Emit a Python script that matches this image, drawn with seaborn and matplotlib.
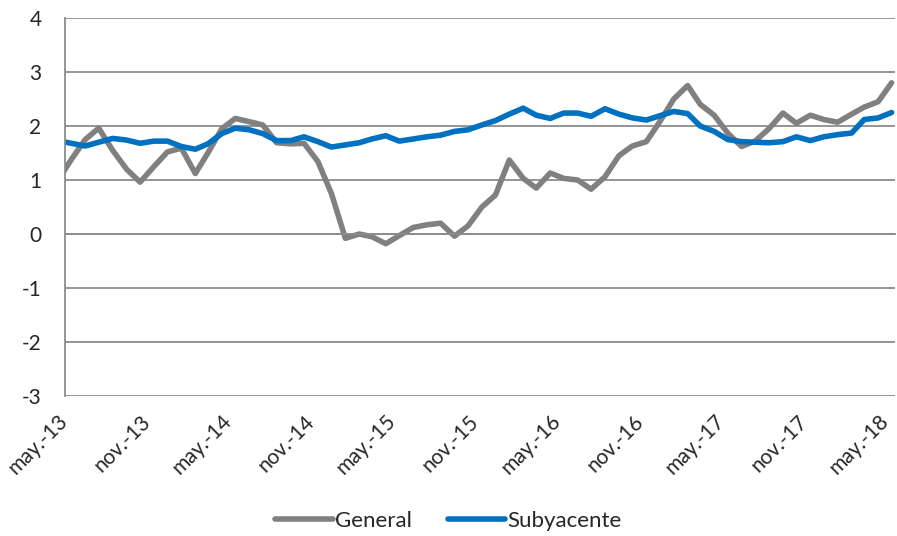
# Inflation chart: General vs Subyacente, monthly (mid-month points)
import pandas as pd
import seaborn as sns
import matplotlib.pyplot as plt

# Monthly values, apr-13 .. may-18 (the april point is clipped by the axis)
general = [0.99, 1.38, 1.75, 1.96, 1.55, 1.2, 0.96, 1.25, 1.52, 1.59, 1.12, 1.5,
           1.95, 2.14, 2.08, 2.02, 1.69, 1.67, 1.68, 1.34, 0.75, -0.08, 0.0, -0.05,
           -0.18, -0.03, 0.12, 0.17, 0.2, -0.04, 0.15, 0.5, 0.72, 1.37, 1.03, 0.85,
           1.13, 1.03, 1.0, 0.83, 1.06, 1.45, 1.63, 1.71, 2.08, 2.5, 2.75, 2.4,
           2.2, 1.87, 1.62, 1.72, 1.95, 2.24, 2.05, 2.2, 2.12, 2.07, 2.22, 2.35,
           2.45, 2.8]
subyacente = [1.73, 1.68, 1.63, 1.7, 1.77, 1.74, 1.68, 1.72, 1.72, 1.62, 1.57, 1.67,
              1.86, 1.96, 1.93, 1.86, 1.73, 1.73, 1.8, 1.71, 1.61, 1.65, 1.69, 1.76,
              1.82, 1.72, 1.76, 1.8, 1.83, 1.9, 1.93, 2.02, 2.1, 2.22, 2.33, 2.2,
              2.14, 2.24, 2.24, 2.18, 2.32, 2.22, 2.15, 2.11, 2.19, 2.27, 2.23, 2.0,
              1.9, 1.75, 1.71, 1.7, 1.69, 1.71, 1.8, 1.73, 1.8, 1.84, 1.87, 2.12,
              2.15, 2.25]
dates = pd.date_range("2013-04-01", periods=len(general), freq="MS") + pd.Timedelta(days=14)

tick_dates = pd.date_range("2013-05-01", "2018-05-01", freq="6MS")
tick_labels = ["may.-13", "nov.-13", "may.-14", "nov.-14", "may.-15", "nov.-15",
               "may.-16", "nov.-16", "may.-17", "nov.-17", "may.-18"]

# Long format for seaborn
df = pd.DataFrame({
    "fecha": list(dates) * 2,
    "valor": general + subyacente,
    "serie": ["General"] * len(general) + ["Subyacente"] * len(subyacente),
})

sns.set_style("white")
plt.rcParams["font.family"] = ["Lato", "DejaVu Sans"]
plt.rcParams["axes.unicode_minus"] = False

grid_col = "#8c8c8c"
fig = plt.figure(figsize=(8.97, 5.36), dpi=100)
ax = fig.add_axes([0.0725, 0.2612, 0.9255, 0.7052])

sns.lineplot(data=df, x="fecha", y="valor", hue="serie",
             palette={"General": "#808080", "Subyacente": "#0070c0"},
             linewidth=4, ax=ax, legend=False,
             solid_capstyle="round", solid_joinstyle="round")

# Axes ranges
ax.set_ylim(-3, 4)
ax.set_xlim(pd.Timestamp("2013-05-01"), pd.Timestamp("2018-05-23"))
ax.set_yticks(range(-3, 5))
ax.grid(axis="y", color=grid_col, linewidth=1.3)
ax.set_axisbelow(True)
ax.set_xlabel("")
ax.set_ylabel("")

# Spines: left axis, category axis crossing at zero
for s in ["top", "right"]:
    ax.spines[s].set_visible(False)
ax.spines["left"].set_color(grid_col)
ax.spines["left"].set_linewidth(1.3)
ax.spines["bottom"].set_position(("data", 0))
ax.spines["bottom"].set_color(grid_col)
ax.spines["bottom"].set_linewidth(1.3)

ax.set_xticks(tick_dates)
ax.tick_params(axis="x", direction="out", length=6, width=1.3, color=grid_col,
               labelbottom=False)
ax.tick_params(axis="y", direction="out", length=6, width=1.3, color=grid_col,
               labelsize=15, pad=11)

# Date labels at the bottom of the plot area
sec = ax.secondary_xaxis(0)
sec.set_xticks(tick_dates)
sec.set_xticklabels(tick_labels, rotation=45, ha="right", va="center",
                    rotation_mode="anchor", fontsize=15)
sec.tick_params(length=0, pad=16)
sec.spines["bottom"].set_visible(False)

# Legend
handles = [plt.Line2D([], [], color="#808080", linewidth=4, solid_capstyle="round"),
           plt.Line2D([], [], color="#0070c0", linewidth=4, solid_capstyle="round")]
fig.legend(handles, ["General", "Subyacente"], loc="center", ncol=2,
           bbox_to_anchor=(0.5, 0.028), frameon=False, fontsize=16,
           handlelength=2.6, handletextpad=0.1, columnspacing=1.6)

fig.savefig("out.png", dpi=100)
